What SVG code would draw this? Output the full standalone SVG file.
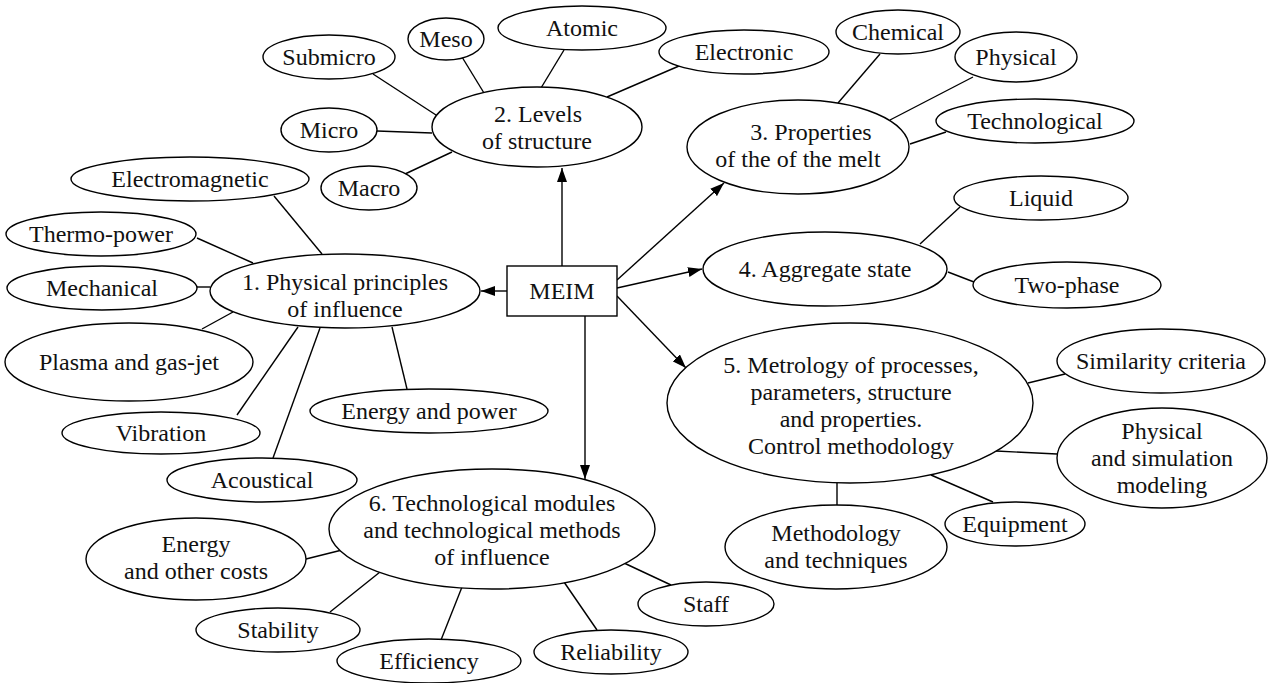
<svg xmlns="http://www.w3.org/2000/svg" width="1272" height="683" viewBox="0 0 1272 683">
<style>
  .n ellipse, .n rect { fill: #fff; stroke: #000; stroke-width: 1.4; }
  .n text { font-size: 24px; fill: #111; text-anchor: middle; }
  .c line { stroke: #000; stroke-width: 1.4; }
  .c line.a { marker-end: url(#arr); }
</style>
<defs>
  <marker id="arr" viewBox="0 0 14 10" refX="14" refY="5" markerWidth="14" markerHeight="10" orient="auto" markerUnits="userSpaceOnUse">
    <path d="M0,0 L14,5 L0,10 z" fill="#000"/>
  </marker>
</defs>
<rect width="1272" height="683" fill="#fff"/>
<g id="connectors" class="c">
  <line class="a" x1="562" y1="266" x2="562" y2="168"/>
  <line class="a" x1="617" y1="280" x2="724" y2="183"/>
  <line class="a" x1="617" y1="288" x2="702" y2="269"/>
  <line class="a" x1="617" y1="296" x2="686" y2="368"/>
  <line class="a" x1="507" y1="291" x2="481" y2="291"/>
  <line class="a" x1="585" y1="316" x2="585" y2="479"/>
  <line x1="373" y1="74" x2="436" y2="115"/>
  <line x1="377" y1="131" x2="432" y2="133"/>
  <line x1="405" y1="174" x2="452" y2="152"/>
  <line x1="462" y1="57" x2="484" y2="93"/>
  <line x1="564" y1="50" x2="541" y2="88"/>
  <line x1="679" y1="66" x2="607" y2="97"/>
  <line x1="880" y1="54" x2="838" y2="103"/>
  <line x1="973" y1="77" x2="890" y2="120"/>
  <line x1="946" y1="132" x2="910" y2="144"/>
  <line x1="960" y1="207" x2="920" y2="244"/>
  <line x1="948" y1="272" x2="974" y2="282"/>
  <line x1="1028" y1="383" x2="1065" y2="374"/>
  <line x1="996" y1="451" x2="1057" y2="454"/>
  <line x1="931" y1="475" x2="993" y2="502"/>
  <line x1="837" y1="483" x2="837" y2="505"/>
  <line x1="274" y1="196" x2="322" y2="254"/>
  <line x1="197" y1="238" x2="253" y2="263"/>
  <line x1="197" y1="287" x2="210" y2="287"/>
  <line x1="202" y1="329" x2="233" y2="312"/>
  <line x1="237" y1="415" x2="298" y2="327"/>
  <line x1="273" y1="458" x2="320" y2="328"/>
  <line x1="407" y1="389" x2="392" y2="327"/>
  <line x1="306" y1="559" x2="342" y2="550"/>
  <line x1="330" y1="612" x2="380" y2="572"/>
  <line x1="441" y1="640" x2="462" y2="587"/>
  <line x1="597" y1="630" x2="564" y2="582"/>
  <line x1="671" y1="585" x2="624" y2="563"/>
</g>

<g id="nodes" font-family="Liberation Serif, Noto Serif, DejaVu Serif, serif">
<g id="meim" class="n"><rect x="507" y="266" width="110" height="50"/><text x="562" y="299">MEIM</text></g>

<g id="levels" class="n"><ellipse cx="537" cy="127" rx="105" ry="40"/><text x="538" y="122">2. Levels</text><text x="537" y="149">of structure</text></g>
<g id="submicro" class="n"><ellipse cx="329" cy="57" rx="66" ry="22"/><text x="329" y="65">Submicro</text></g>
<g id="meso" class="n"><ellipse cx="446" cy="39" rx="38" ry="21"/><text x="446" y="47">Meso</text></g>
<g id="atomic" class="n"><ellipse cx="582" cy="28" rx="84" ry="22"/><text x="582" y="36">Atomic</text></g>
<g id="electronic" class="n"><ellipse cx="744" cy="52" rx="85" ry="22"/><text x="744" y="60">Electronic</text></g>
<g id="micro" class="n"><ellipse cx="329" cy="130" rx="48" ry="22"/><text x="329" y="138">Micro</text></g>
<g id="macro" class="n"><ellipse cx="369" cy="188" rx="48" ry="22"/><text x="369" y="196">Macro</text></g>

<g id="properties" class="n"><ellipse cx="798" cy="147" rx="111" ry="47"/><text x="811" y="140">3. Properties</text><text x="798" y="167">of the of the melt</text></g>
<g id="chemical" class="n"><ellipse cx="898" cy="32" rx="62" ry="22"/><text x="898" y="40">Chemical</text></g>
<g id="physical" class="n"><ellipse cx="1016" cy="57" rx="61" ry="25"/><text x="1016" y="65">Physical</text></g>
<g id="technological" class="n"><ellipse cx="1035" cy="121" rx="99" ry="22"/><text x="1035" y="129">Technological</text></g>

<g id="aggregate" class="n"><ellipse cx="825" cy="269" rx="122" ry="37"/><text x="825" y="277">4. Aggregate state</text></g>
<g id="liquid" class="n"><ellipse cx="1041" cy="198" rx="87" ry="22"/><text x="1041" y="206">Liquid</text></g>
<g id="twophase" class="n"><ellipse cx="1067" cy="285" rx="94" ry="23"/><text x="1067" y="293">Two-phase</text></g>

<g id="metrology" class="n"><ellipse cx="850" cy="403" rx="183" ry="80"/><text x="851" y="373">5. Metrology of processes,</text><text x="851" y="400">parameters, structure</text><text x="851" y="427">and properties.</text><text x="851" y="454">Control methodology</text></g>
<g id="similarity" class="n"><ellipse cx="1161" cy="361" rx="104" ry="32"/><text x="1161" y="369">Similarity criteria</text></g>
<g id="simulation" class="n"><ellipse cx="1162" cy="458" rx="105" ry="50"/><text x="1162" y="439">Physical</text><text x="1162" y="466">and simulation</text><text x="1162" y="493">modeling</text></g>
<g id="equipment" class="n"><ellipse cx="1015" cy="524" rx="70" ry="22"/><text x="1015" y="532">Equipment</text></g>
<g id="methodology" class="n"><ellipse cx="836" cy="547" rx="111" ry="42"/><text x="836" y="541">Methodology</text><text x="836" y="568">and techniques</text></g>

<g id="principles" class="n"><ellipse cx="345" cy="291" rx="135" ry="37"/><text x="345" y="290">1. Physical principles</text><text x="345" y="317">of influence</text></g>
<g id="electromagnetic" class="n"><ellipse cx="190" cy="179" rx="119" ry="22"/><text x="190" y="187">Electromagnetic</text></g>
<g id="thermo" class="n"><ellipse cx="101" cy="234" rx="95" ry="22"/><text x="101" y="242">Thermo-power</text></g>
<g id="mechanical" class="n"><ellipse cx="102" cy="288" rx="95" ry="22"/><text x="102" y="296">Mechanical</text></g>
<g id="plasma" class="n"><ellipse cx="129" cy="362" rx="124" ry="39"/><text x="129" y="370">Plasma and gas-jet</text></g>
<g id="vibration" class="n"><ellipse cx="161" cy="433" rx="99" ry="21"/><text x="161" y="441">Vibration</text></g>
<g id="acoustical" class="n"><ellipse cx="262" cy="480" rx="95" ry="22"/><text x="262" y="488">Acoustical</text></g>
<g id="energypower" class="n"><ellipse cx="429" cy="411" rx="119" ry="22"/><text x="429" y="419">Energy and power</text></g>

<g id="modules" class="n"><ellipse cx="492" cy="529" rx="163" ry="60"/><text x="492" y="511">6. Technological modules</text><text x="492" y="538">and technological methods</text><text x="492" y="565">of influence</text></g>
<g id="costs" class="n"><ellipse cx="196" cy="559" rx="110" ry="41"/><text x="196" y="552">Energy</text><text x="196" y="579">and other costs</text></g>
<g id="stability" class="n"><ellipse cx="278" cy="630" rx="82" ry="22"/><text x="278" y="638">Stability</text></g>
<g id="efficiency" class="n"><ellipse cx="429" cy="661" rx="92" ry="22"/><text x="429" y="669">Efficiency</text></g>
<g id="reliability" class="n"><ellipse cx="611" cy="652" rx="77" ry="22"/><text x="611" y="660">Reliability</text></g>
<g id="staff" class="n"><ellipse cx="706" cy="604" rx="68" ry="22"/><text x="706" y="612">Staff</text></g>
</g>
</svg>
